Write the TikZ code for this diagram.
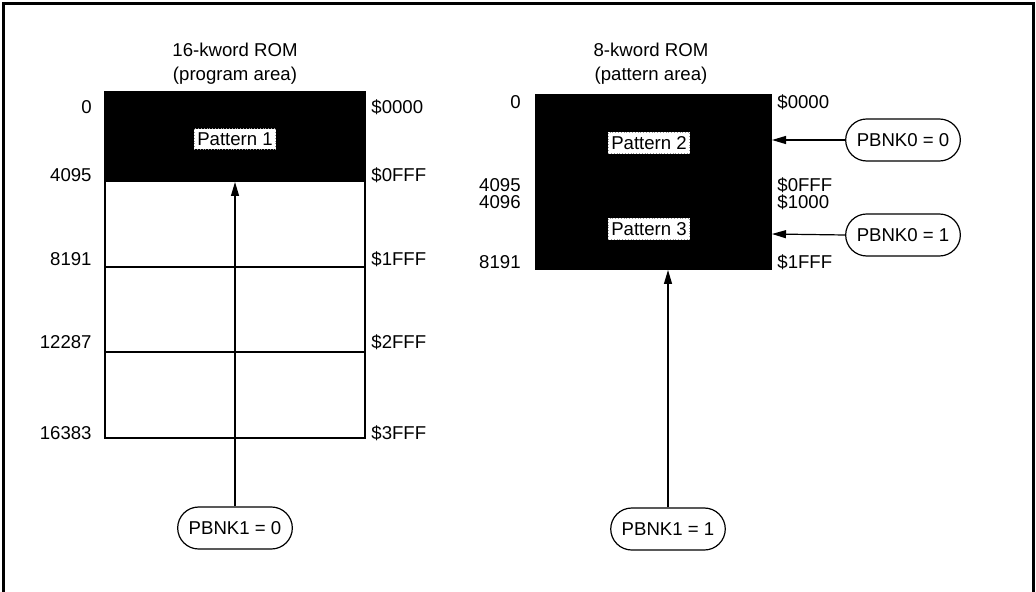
\documentclass[tikz,border=0pt]{standalone}
\usepackage{fontspec}
\setmainfont{Liberation Sans}
\usetikzlibrary{arrows.meta,shapes.misc}

\begin{document}
\begin{tikzpicture}[x=0.5pt,y=-0.5pt,>={Triangle[length=7pt,width=4pt]},
 addr/.style={font=\fontsize{9.3}{11}\selectfont,inner sep=0pt},
 title/.style={font=\fontsize{9.3}{12}\selectfont,align=center,inner sep=0pt},
 patlbl/.style={fill=white,draw=black!40,densely dotted,font=\fontsize{9.3}{11}\selectfont,inner xsep=1.5pt,inner ysep=2pt},
 bank/.style={draw,rounded rectangle,line width=0.6pt,minimum height=21pt,inner xsep=5pt,font=\fontsize{9.3}{11}\selectfont},
 link/.style={->,line width=0.6pt}]
 \useasboundingbox (0,0) rectangle (1036,592);
 \draw[line width=1.5pt] (3.5,592) -- (3.5,4) -- (1033,4) -- (1033,592);
 % program area
 \node[title] (progtitle) at (235,64) {16-kword ROM\\(program area)};
 \fill (105,92) rectangle (365,182);
 \draw[line width=1pt] (105,92) rectangle (365,438);
 \draw[line width=0.8pt] (105,267) -- (365,267) (105,352) -- (365,352);
 \coordinate (prog1) at (235,182);
 \node[patlbl] (pat1) at (235,139) {Pattern 1};
 \foreach \y/\dec/\hex in {107/0/\$0000,175/4095/\$0FFF,259/8191/\$1FFF,342/12287/\$2FFF,433/16383/\$3FFF}{
  \node[addr,anchor=east] at (92,\y) {\dec};
  \node[addr,anchor=west] at (371,\y) {\hex};
 }
 \node[bank] (pbA) at (235,528) {PBNK1 = 0};
 \draw[link] (pbA.north) -- (prog1);
 % pattern area
 \node[title] (pattitle) at (651,64) {8-kword ROM\\(pattern area)};
 \fill (535,94) rectangle (772,270);
 \coordinate (patbot) at (668,270);
 \coordinate (pat2in) at (772,140);
 \coordinate (pat3in) at (772,234);
 \node[patlbl] (pat2) at (649,143) {Pattern 2};
 \node[patlbl] (pat3) at (649,229) {Pattern 3};
 \foreach \y/\dec/\hex in {102/0/\$0000,185/4095/\$0FFF,202/4096/\$1000,262/8191/\$1FFF}{
  \node[addr,anchor=east] at (521,\y) {\dec};
  \node[addr,anchor=west] at (777,\y) {\hex};
 }
 \node[bank] (pbB) at (668,529) {PBNK1 = 1};
 \node[bank] (pbC) at (903,140) {PBNK0 = 0};
 \node[bank] (pbD) at (903,235) {PBNK0 = 1};
 \draw[link] (pbB.north) -- (patbot);
 \draw[link] (pbC.west) -- (pat2in);
 \draw[link] (pbD.west) -- (pat3in);
\end{tikzpicture}
\end{document}
